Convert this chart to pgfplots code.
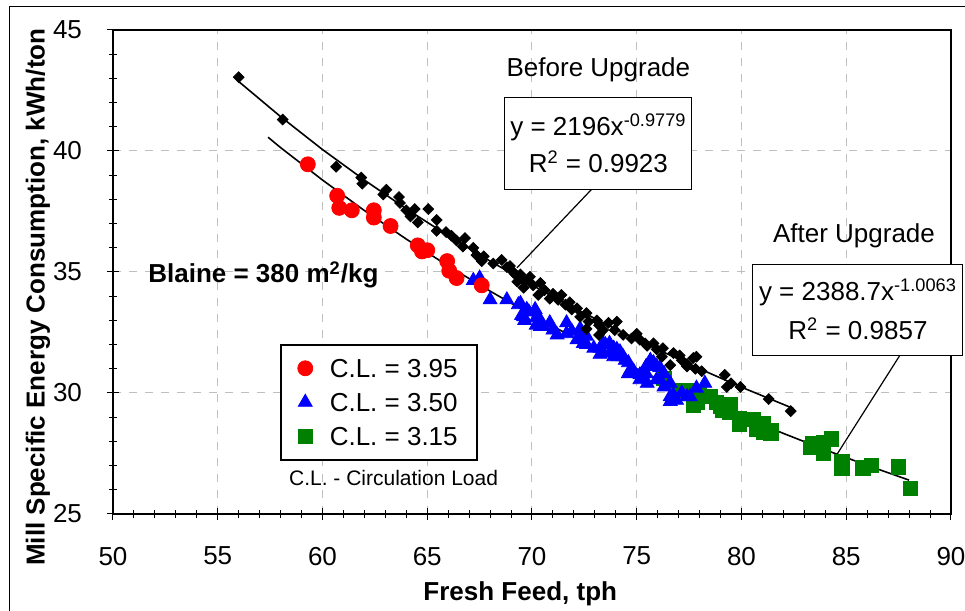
\documentclass[border=0pt]{standalone}
\usepackage{fontspec}
\setmainfont{Liberation Sans}
\usepackage{pgfplots}
\pgfplotsset{compat=1.18}
\newcommand\f{\fontsize{13}{15}\selectfont}
\definecolor{clgreen}{RGB}{0,128,0}
\begin{document}
\begin{tikzpicture}
\begin{axis}[
  scale only axis, width=419pt, height=242pt,
  xmin=50, xmax=90, ymin=25, ymax=45,
  xtick={50,55,...,90}, ytick={25,30,...,45},
  minor x tick num=4, minor y tick num=4,
  tick pos=left, tick align=center,
  major tick length=6pt, minor tick length=4pt,
  tick style={black, line width=0.5pt},
  grid=major, grid style={dash pattern=on 4pt off 4pt, black!25, line width=0.5pt},
  axis line style={line width=0.6pt},
  /pgf/number format/assume math mode=true,
  ticklabel style={font=\f},
  xticklabel style={yshift=-10pt},
  yticklabel style={xshift=-9pt},
  clip=false,
  legend style={at={(axis description cs:0.199,0.110)}, anchor=south west,
    draw=black, line width=1pt, inner xsep=8.5pt, inner ysep=6pt,
    row sep=5.5pt, column sep=7.5pt, font=\f,
    nodes={inner sep=1pt, text height=9.5pt, text depth=0pt}},
  legend cell align=left,
  legend image post style={line width=0.4pt},
]
% C.L. = 3.15
\addplot[only marks, mark=square*, mark size=3.6pt, color=clgreen, forget plot] coordinates {
(76.3,30.6)(76.9,30.1)(77.4,30.1)(77.7,29.5)(78.0,30.0)(78.3,29.85)(77.9,29.6)
(78.5,29.85)(78.8,29.6)(79.0,29.45)(79.1,29.3)(79.45,29.5)(79.45,29.2)(79.9,28.95)
(79.9,28.7)(80.55,28.9)(80.7,28.5)(81.05,28.75)(81.05,28.4)(81.4,28.45)(81.4,28.35)
(83.3,27.75)(83.4,27.9)(83.9,27.5)(83.9,27.95)(84.3,28.1)(84.8,27.15)(84.8,26.9)
(85.8,26.9)(86.2,27.0)(87.5,26.95)(88.05,26.05)};
% C.L. = 3.50
\addplot[only marks, mark=triangle*, mark size=4pt, color=blue, forget plot] coordinates {
(67.2,34.65)(67.5,34.75)(68.0,33.85)(68.8,33.85)(69.35,33.65)(69.45,33.7)(69.5,33.2)
(69.6,33.15)(69.65,33.0)(69.75,33.45)(69.85,33.35)(70.15,33.45)(70.2,33.1)(70.2,32.8)
(70.4,33.0)(70.4,32.75)(70.55,32.75)(70.85,32.9)(71.0,32.6)(71.2,32.4)(71.65,32.9)
(71.65,32.45)(71.9,32.55)(72.15,32.2)(72.3,32.65)(72.3,32.35)(72.45,32.05)(72.6,32.35)
(72.6,32.0)(72.95,31.85)(73.25,31.85)(73.25,31.6)(73.4,32.05)(73.5,32.0)(73.7,32.05)
(73.7,31.65)(73.9,31.5)(73.9,31.85)(74.05,31.8)(74.1,31.5)(74.2,31.7)(74.35,31.5)
(74.45,31.35)(74.6,31.25)(74.6,30.8)(74.7,30.95)(74.85,30.9)(75.15,30.75)(75.15,30.55)
(75.45,31.1)(75.45,30.8)(75.5,30.4)(75.65,31.35)(75.65,31.1)(75.8,31.25)(75.95,31.1)
(75.95,30.55)(76.1,31.05)(76.1,30.55)(76.3,30.8)(76.3,30.25)(76.6,30.4)(76.6,29.85)
(76.6,29.65)(76.75,29.9)(76.9,29.7)(77.15,30.0)(77.4,29.85)(77.55,29.85)(77.85,30.2)
(78.25,30.4)};
% C.L. = 3.95
\addplot[only marks, mark=*, mark size=3.75pt, color=red, forget plot] coordinates {
(59.3,39.45)(60.7,38.15)(60.8,37.65)(61.4,37.55)(62.45,37.55)(62.45,37.25)(63.25,36.9)
(64.55,36.1)(64.75,35.85)(65.0,35.9)(65.95,35.45)(66.05,35.05)(66.4,34.75)(67.6,34.45)};
% before upgrade
\addplot[only marks, mark=square*, mark size=1.9pt, mark options={rotate=45}, color=black, forget plot] coordinates {
(56.0,43.05)(58.1,41.3)(60.65,39.35)(61.85,38.9)(61.9,38.65)(63.05,38.4)(62.9,38.2)
(63.65,38.1)(63.7,37.85)(64.0,37.55)(64.4,37.6)(64.2,37.3)(64.55,37.05)(65.05,37.6)
(65.45,37.15)(65.45,36.7)(65.9,36.65)(66.15,36.5)(66.4,36.3)(66.8,36.4)(66.7,36.05)
(67.2,36.0)(67.35,35.7)(67.7,35.65)(67.6,35.45)(68.15,35.35)(68.55,35.5)(68.8,35.2)
(68.95,35.25)(69.1,35.0)(69.2,34.9)(69.45,34.9)(69.65,34.6)(69.3,34.6)(69.6,34.35)
(69.9,34.8)(70.05,34.45)(70.4,34.55)(70.3,34.05)(70.6,34.25)(70.85,33.9)(71.0,34.1)
(71.25,33.85)(71.4,34.05)(71.6,33.65)(71.8,33.75)(71.9,33.45)(72.15,33.5)(72.3,33.15)
(72.6,33.3)(72.7,32.95)(72.6,32.65)(73.1,33.0)(73.2,32.8)(73.2,32.4)(73.4,32.6)
(73.65,32.9)(74.05,32.95)(73.95,32.6)(74.35,32.4)(74.75,32.25)(75.0,32.45)(75.15,32.2)
(75.4,32.05)(75.5,31.95)(75.8,32.05)(75.95,31.8)(76.25,31.85)(76.2,31.5)(76.6,31.15)
(76.75,31.65)(77.05,31.55)(77.15,31.35)(77.4,31.2)(77.4,31.1)(77.7,31.45)(77.85,31.5)
(77.8,31.0)(78.1,30.9)(79.2,30.75)(79.3,30.25)(79.5,30.4)(79.95,30.25)(81.3,29.75)
(82.35,29.25)};
% trend lines
\addplot[black, line width=0.8pt, forget plot] coordinates {
(56,42.87)(58,41.42)(60,40.06)(62,38.80)(64,37.61)(66,36.50)(68,35.45)(70,34.46)
(72,33.52)(74,32.64)(76,31.80)(78,31.00)(80,30.24)(82.5,29.35)};
\addplot[black, line width=0.8pt, forget plot] coordinates {
(57.4,40.57)(58,40.14)(60,38.80)(62,37.54)(64,36.36)(66,35.25)(68,34.21)(70,33.22)
(72,32.29)(74,31.42)(76,30.58)(78,29.79)(80,29.05)(82,28.33)(84,27.65)(86,27.01)(88,26.40)};
% legend
\addlegendimage{only marks, mark=*, mark size=3.75pt, color=red}
\addlegendentry{C.L. = 3.95\hspace{3pt}}
\addlegendimage{only marks, mark=triangle*, mark size=4pt, color=blue}
\addlegendentry{C.L. = 3.50\hspace{3pt}}
\addlegendimage{only marks, mark=square*, mark size=3.6pt, color=clgreen}
\addlegendentry{C.L. = 3.15\hspace{3pt}}
% annotations
\node[font=\f, anchor=base] at (axis cs:73.17,43.06) {Before Upgrade};
\node[font=\f, anchor=base] at (axis cs:85.37,36.20) {After Upgrade};
\node[font=\f\bfseries, anchor=base west] at (axis cs:51.35,34.55) {Blaine = 380 m\textsuperscript{2}/kg};
\node[font=\fontsize{10.5}{12}\selectfont, anchor=base west] at (axis cs:58.07,26.16) {C.L. - Circulation Load};
\draw[line width=0.6pt] (axis cs:72.86,38.43) -- (axis cs:69.28,35.17);
\draw[line width=0.6pt] (axis cs:87.57,31.57) -- (axis cs:84.54,27.44);
\node[draw, fill=white, line width=0.5pt, minimum width=93.5pt, minimum height=46pt, inner sep=0pt, align=center, font=\f]
  at (axis cs:73.17,40.33) {y = 2196x\textsuperscript{-0.9779}\\[3.5pt]R\textsuperscript{2} = 0.9923};
\node[draw, fill=white, line width=0.5pt, minimum width=105pt, minimum height=45.5pt, inner sep=0pt, align=center, font=\f]
  at (axis cs:85.56,33.45) {y = 2388.7x\textsuperscript{-1.0063}\\[4.5pt]R\textsuperscript{2} = 0.9857};
\node[font=\f\bfseries, rotate=90] at (axis description cs:-0.0895,0.448) {Mill Specific Energy Consumption, kWh/ton};
\node[font=\f\bfseries] at (axis description cs:0.486,-0.165) {Fresh Feed, tph};
\end{axis}
\pgfresetboundingbox
\path[use as bounding box] (-56.5pt,-48.5pt) rectangle (426pt,257pt);
\draw[line width=0.5pt] (-51.5pt,-48.5pt) -- (-51.5pt,253.5pt) -- (426pt,253.5pt);
\end{tikzpicture}
\end{document}
